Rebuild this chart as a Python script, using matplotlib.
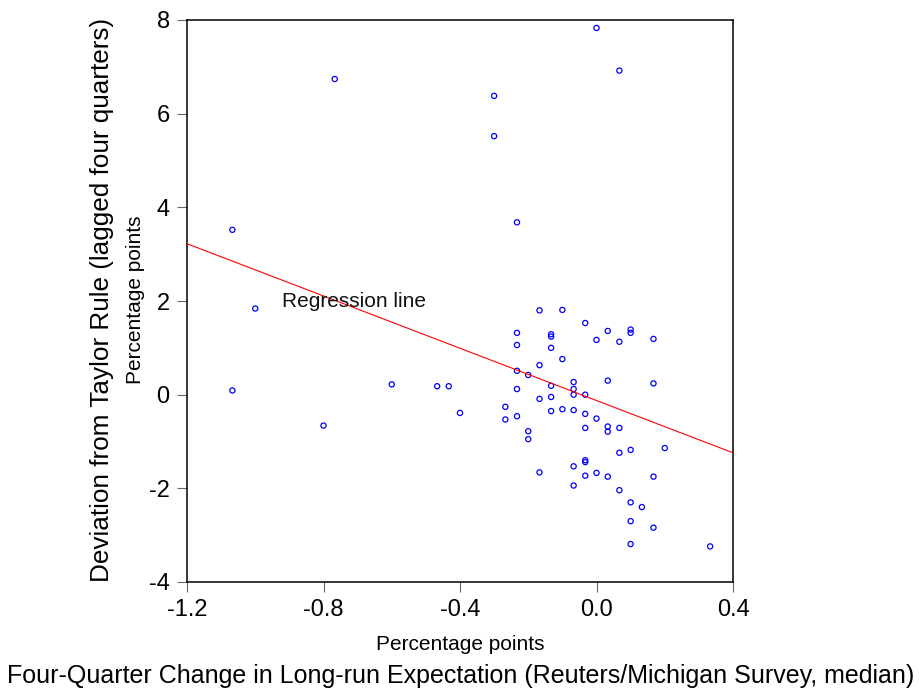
# plot.py

# %% Import Packages
import matplotlib
matplotlib.use('Agg')
import matplotlib.pyplot as plt
import numpy as np


# %% Data
# Four-quarter change in long-run expectation, percentage points
exp_change = [0.0, 0.067, -0.767, -0.3, -0.3, -0.233, -1.067,
              -1.0, -1.067, -0.8, -0.6, -0.467, -0.433, -0.4,
              -0.167, -0.1, -0.033, -0.233, -0.133, -0.133, 0.033, 0.1, 0.1,
              0.0, 0.067, 0.167, -0.233, -0.133, -0.1, -0.167, -0.233, -0.2,
              -0.133, -0.067, -0.067, -0.067, -0.033, -0.233, 0.033, 0.167,
              -0.167, -0.133, -0.267, -0.267, -0.233, -0.133, -0.1, -0.067,
              -0.033, 0.0, -0.033, 0.033, 0.033, 0.067, -0.2, -0.2,
              0.2, 0.1, 0.067, -0.033, -0.033, -0.067, -0.167, 0.0, -0.033,
              0.033, 0.167, -0.067, 0.067, 0.1, 0.133, 0.1, 0.167, 0.1, 0.333]

# Deviation from Taylor rule (lagged four quarters), percentage points
taylor_dev = [7.83, 6.92, 6.74, 6.38, 5.52, 3.68, 3.52,
              1.84, 0.09, -0.66, 0.22, 0.18, 0.18, -0.39,
              1.80, 1.81, 1.53, 1.32, 1.29, 1.24, 1.36, 1.39, 1.32,
              1.17, 1.13, 1.19, 1.06, 1.00, 0.76, 0.63, 0.51, 0.42,
              0.19, 0.27, 0.12, 0.00, 0.00, 0.12, 0.30, 0.24,
              -0.09, -0.05, -0.26, -0.53, -0.46, -0.35, -0.31, -0.33,
              -0.41, -0.51, -0.71, -0.68, -0.79, -0.71, -0.78, -0.95,
              -1.14, -1.18, -1.24, -1.40, -1.44, -1.53, -1.66, -1.67, -1.73,
              -1.75, -1.75, -1.94, -2.04, -2.30, -2.40, -2.70, -2.84, -3.19, -3.24]

# Regression line coefficients
reg_intercept = -0.125
reg_slope = -2.79

x_ticks = [-1.2, -0.8, -0.4, 0.0, 0.4]
y_ticks = [-4, -2, 0, 2, 4, 6, 8]


# %% Plot
plt.rcParams['font.family'] = ['Liberation Sans', 'DejaVu Sans']

fig = plt.figure(figsize=(9.24, 6.92), dpi=100)
ax = fig.add_axes([187 / 924, 1 - 582 / 692, 546 / 924, 562 / 692])

ax.scatter(exp_change, taylor_dev, s=14, facecolors='none',
           edgecolors='#0000FF', linewidths=0.9, zorder=2)

xmin, xmax = -1.2, 0.4
xl = np.array([xmin, xmax])
ax.plot(xl, reg_intercept + reg_slope * xl, color='#FF0000', linewidth=0.8,
        zorder=3)
ax.text(-0.922, 1.88, 'Regression line', fontsize=15, color='#111111',
        ha='left', va='baseline')

ax.set_xlim(xmin, xmax)
ax.set_ylim(-4, 8)
ax.set_xticks(x_ticks)
ax.set_xticklabels(['%.1f' % v for v in x_ticks])
ax.set_yticks(y_ticks)
ax.set_yticklabels([str(v) for v in y_ticks])
ax.tick_params(direction='out', length=7.5, width=0.8, color='#666666',
               labelsize=17, pad=5)

for sp in ax.spines.values():
    sp.set_linewidth(1.1)
    sp.set_color('black')

# Labels
fig.text(460 / 924, 1 - 649.5 / 692, 'Percentage points', fontsize=15,
         ha='center', va='baseline')
fig.text(460.5 / 924, 1 - 683.5 / 692,
         'Four-Quarter Change in Long-run Expectation (Reuters/Michigan Survey, median)',
         fontsize=18, ha='center', va='baseline')
fig.text(141 / 924, 1 - 300 / 692, 'Percentage points', fontsize=15,
         rotation=90, rotation_mode='anchor', ha='center', va='baseline')
fig.text(109.5 / 924, 1 - 300 / 692,
         'Deviation from Taylor Rule (lagged four quarters)',
         fontsize=18.8, rotation=90, rotation_mode='anchor', ha='center',
         va='baseline')

fig.savefig('out.png', dpi=100)
